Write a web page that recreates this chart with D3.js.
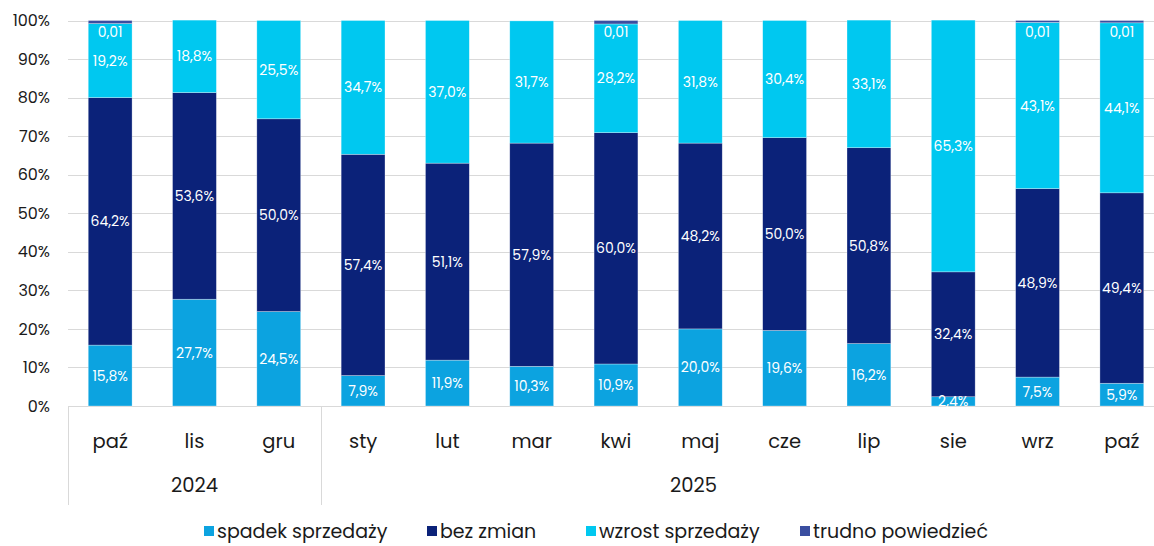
<!DOCTYPE html>
<html><head><meta charset="utf-8">
<script src="https://cdn.jsdelivr.net/npm/d3@7"></script>
<style>body{margin:0;background:#fff;}svg{display:block;}</style>
</head><body>
<svg id="c" width="1154" height="546"></svg>
<script>
const months = ["paź","lis","gru","sty","lut","mar","kwi","maj","cze","lip","sie","wrz","paź"];
const years = ["2024","2025"];
const yearSpans = [3, 10];
const yearLabelAt = [1.5, 7.42]; // label position in category units
const seriesNames = ["spadek sprzedaży","bez zmian","wzrost sprzedaży","trudno powiedzieć"];
const spadek = [15.8,27.7,24.5,7.9,11.9,10.3,10.9,20.0,19.6,16.2,2.4,7.5,5.9];
const bezZmian = [64.2,53.6,50.0,57.4,51.1,57.9,60.0,48.2,50.0,50.8,32.4,48.9,49.4];
const wzrost = [19.2,18.8,25.5,34.7,37.0,31.7,28.2,31.8,30.4,33.1,65.3,43.1,44.1];
const trudno = [0.8,0,0,0,0,0,0.9,0,0,0,0,0.5,0.6];
const trudnoLabels = ["0,01","","","","","","0,01","","","","","0,01","0,01"];
const yTicks = [0,10,20,30,40,50,60,70,80,90,100];
const colors = ["#0CA3E0","#0B2279","#00C8F0","#3A4EA0"];

const svg = d3.select("#c");
const font = "Poppins, 'Open Sans', sans-serif";
const x = d3.scaleBand().domain(d3.range(months.length)).range([68, 1164]).padding(0);
const xPos = d3.scaleLinear().domain([0, months.length]).range(x.range());
const y = d3.scaleLinear().domain([0,100]).range([406, 20.5]);
const barW = x.bandwidth()*0.52;

// gridlines
svg.append("g").selectAll("line").data(yTicks).join("line")
  .attr("x1", 68).attr("x2", 1154)
  .attr("y1", d=>Math.round(y(d))+0.5).attr("y2", d=>Math.round(y(d))+0.5)
  .attr("stroke", "#d9d9d9").attr("stroke-width", 1);

// y axis labels
const yAxis = d3.axisLeft(y).tickValues(yTicks).tickFormat(d=>d+"%").tickSize(0).tickPadding(0);
const ya = svg.append("g").attr("transform","translate(50,0)").call(yAxis);
ya.select(".domain").remove();
ya.selectAll("text").attr("font-family", font).attr("font-size", 16).attr("fill","#1a1a1a");

const series = [spadek, bezZmian, wzrost, trudno];
const stack = d3.stack().keys([0,1,2,3]).value((d,k)=>series[k][d])(d3.range(months.length));

const g = svg.append("g");
stack.forEach((layer,k)=>{
  g.append("g").selectAll("rect").data(layer).join("rect")
    .attr("x", (d,i)=>x(i)+(x.bandwidth()-barW)/2)
    .attr("width", barW)
    .attr("y", d=>y(d[1]))
    .attr("height", d=>Math.max(0, y(d[0])-y(d[1])))
    .attr("fill", colors[k])
    .attr("stroke", "#ffffff").attr("stroke-opacity", 0.5).attr("stroke-width", 0.6);
});

const fmt = v => v.toFixed(1).replace(".", ",") + "%";
const lab = svg.append("g").attr("font-family", font).attr("font-size", 14).attr("fill","#fff").attr("text-anchor","middle");
stack.slice(0,3).forEach((layer,k)=>{
  lab.append("g").selectAll("text").data(layer).join("text")
    .attr("x", (d,i)=>x(i)+x.bandwidth()/2)
    .attr("y", d=>(y(d[0])+y(d[1]))/2)
    .attr("dy","0.36em")
    .text((d,i)=>fmt(series[k][i]));
});
lab.append("g").selectAll("text").data(trudnoLabels).join("text")
  .attr("x", (d,i)=>x(i)+x.bandwidth()/2)
  .attr("y", y(100)+11)
  .attr("dy","0.36em")
  .text(d=>d);

// x axis category labels
const xAxis = d3.axisBottom(x).tickFormat(i=>months[i]).tickSize(0).tickPadding(0);
const xa = svg.append("g").attr("transform","translate(0,442)").call(xAxis);
xa.select(".domain").remove();
xa.selectAll("text").attr("font-family", font).attr("font-size", 19.5).attr("fill","#1a1a1a").attr("dy","0.3em");

// year groups
let start = 0;
const sepX = [x(0)];
years.forEach((yr,j)=>{
  const e = x(start+yearSpans[j]-1)+x.bandwidth();
  sepX.push(e);
  svg.append("text").attr("x",xPos(yearLabelAt[j])).attr("y",485).attr("dy","0.36em")
    .attr("text-anchor","middle").attr("font-family",font).attr("font-size",19.5).attr("fill","#1a1a1a").text(yr);
  start += yearSpans[j];
});
svg.append("g").selectAll("line").data(sepX).join("line")
  .attr("x1",d=>Math.round(d)+0.5).attr("x2",d=>Math.round(d)+0.5)
  .attr("y1",406).attr("y2",505).attr("stroke","#d9d9d9").attr("stroke-width",1);

// legend
const legX = [204, 427, 586, 800];
const leg = svg.append("g");
seriesNames.forEach((n,k)=>{
  leg.append("rect").attr("x",legX[k]).attr("y",526).attr("width",10).attr("height",10).attr("fill",colors[k]);
  leg.append("text").attr("x",legX[k]+13).attr("y",538)
    .attr("font-family",font).attr("font-size",19).attr("fill","#1a1a1a").text(n);
});
</script>
</body></html>
